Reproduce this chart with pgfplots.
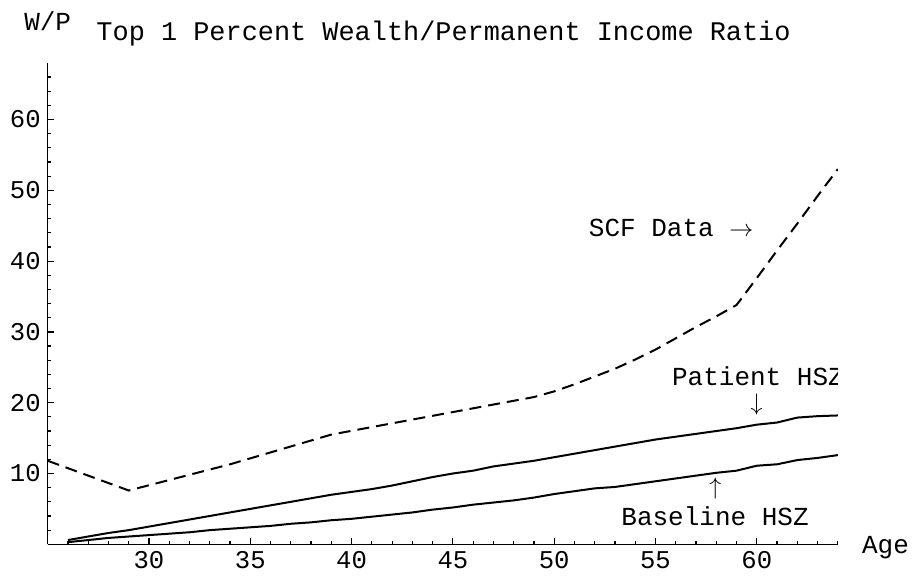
\documentclass[border=0pt]{standalone}
\usepackage{fontspec}
\setmainfont{Liberation Mono}
\usepackage{pgfplots}
\pgfplotsset{compat=1.18}
\begin{document}
\begin{tikzpicture}
\useasboundingbox (-23.85bp,-16.85bp) rectangle (433.65bp,272.15bp);
\begin{axis}[
  at={(0,0)}, anchor=south west,
  scale only axis, width=395.07bp, height=240.7bp,
  xmin=25, xmax=64, ymin=0, ymax=68,
  axis lines=left, axis line style={-, line width=0.7bp},
  tick align=inside, tick style={black, line width=0.6bp},
  major tick length=3bp, minor tick length=1.8bp,
  xtick={30,35,...,60}, minor xtick={26,...,64},
  ytick={10,20,...,60}, minor ytick={2,4,...,66},
  /pgf/number format/assume math mode=true,
  tick label style={font=\fontsize{12.8bp}{14bp}\selectfont},
  font=\fontsize{13bp}{15bp}\selectfont,
  every axis title shift=0pt,
  title={Top 1 Percent Wealth/Permanent Income Ratio},
  title style={at={(axis description cs:0.501,1.046)}, anchor=base, inner sep=0pt, font=\fontsize{13.45bp}{15bp}\selectfont},
  ylabel={W/P},
  ylabel style={at={(axis description cs:0,1.0676)}, anchor=base, rotate=-90, inner sep=0pt},
  xlabel={Age},
  xlabel style={at={(axis description cs:1.0603,-0.0187)}, anchor=base, inner sep=0pt},
  clip=true,
]
\addplot[black, line width=1bp, dash pattern=on 6bp off 3.5bp] coordinates {
(25,11.8) (29,7.6) (34,11.3) (39,15.5) (49,20.8) (50,21.6) (51,22.6) (52,23.7) (53,24.8) (54,26.1) (55,27.5) (56,29.1) (57,30.7) (58,32.2) (59,33.8) (60,37.6) (61,41.5) (62,45.3) (63,49.2) (64,53.0)
};
\addplot[black, line width=1bp] coordinates {
(26,0.6) (27,1.1) (28,1.6) (29,2.0) (30,2.5) (31,3.0) (32,3.5) (33,4.0) (34,4.5) (35,5.0) (36,5.5) (37,6.0) (38,6.5) (39,7.0) (40,7.4) (41,7.8) (42,8.3) (43,8.9) (44,9.5) (45,10.0) (46,10.4) (47,11.0) (48,11.4) (49,11.8) (50,12.3) (51,12.8) (52,13.3) (53,13.8) (54,14.3) (55,14.8) (56,15.2) (57,15.6) (58,16.0) (59,16.4) (60,16.9) (61,17.2) (62,17.9) (63,18.1) (64,18.2)
};
\addplot[black, line width=1bp] coordinates {
(26,0.3) (27,0.6) (28,0.9) (29,1.1) (30,1.3) (31,1.5) (32,1.7) (33,2.0) (34,2.2) (35,2.4) (36,2.6) (37,2.9) (38,3.1) (39,3.4) (40,3.6) (41,3.9) (42,4.2) (43,4.5) (44,4.9) (45,5.2) (46,5.6) (47,5.9) (48,6.2) (49,6.6) (50,7.1) (51,7.5) (52,7.9) (53,8.1) (54,8.5) (55,8.9) (56,9.3) (57,9.7) (58,10.1) (59,10.4) (60,11.1) (61,11.3) (62,11.9) (63,12.2) (64,12.6)
};
\begin{scope}
\clip (rel axis cs:0,0) rectangle (rel axis cs:1,1);
\node[anchor=base, inner sep=0pt] at (axis cs:55.77,43.45) {SCF Data $\rightarrow$};
\node[anchor=base west, inner sep=0pt] at (axis cs:55.8,22.5) {Patient HSZ};
\node[inner sep=0pt] at (axis cs:59.99,19.8) {$\downarrow$};
\node[inner sep=0pt] at (axis cs:57.96,7.82) {$\uparrow$};
\node[anchor=base, inner sep=0pt] at (axis cs:57.94,2.63) {Baseline HSZ};
\end{scope}
\end{axis}
\end{tikzpicture}
\end{document}
